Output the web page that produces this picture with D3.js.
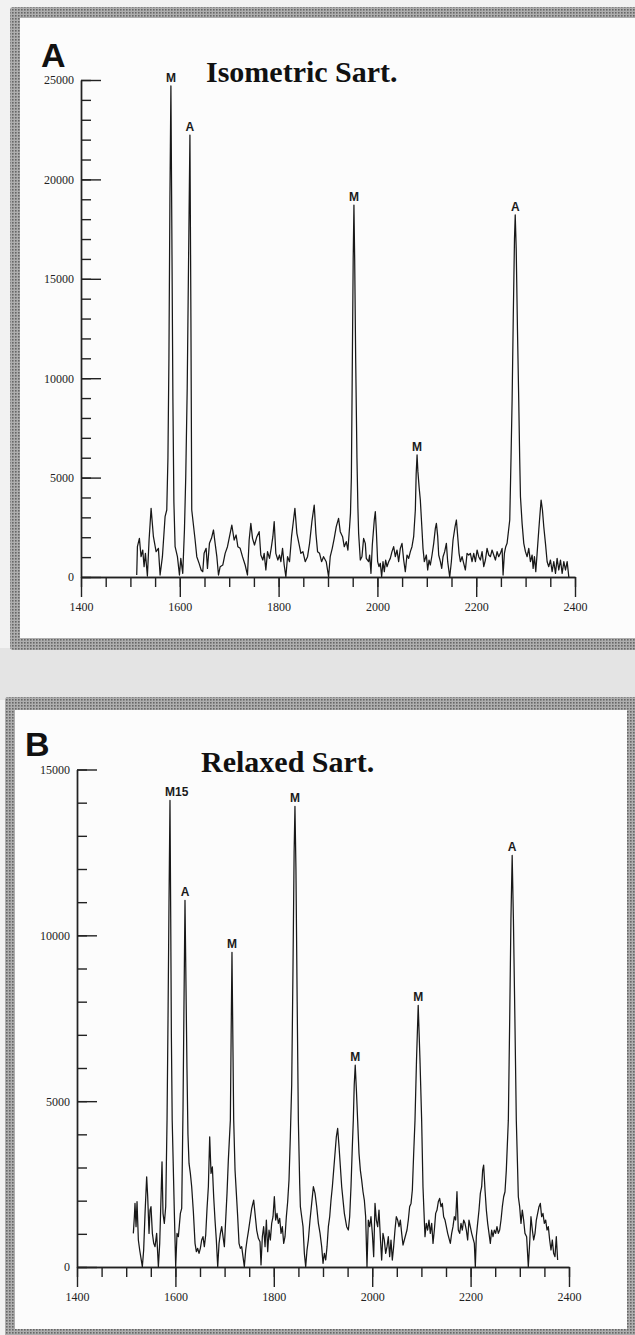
<!DOCTYPE html>
<html>
<head>
<meta charset="utf-8">
<script src="https://cdn.jsdelivr.net/npm/d3@7"></script>
<style>
  body { margin: 0; background: #f2f2f2; }
  svg { display: block; }
  .tick text { font-family: "Liberation Serif", serif; font-size: 12px; fill: #222; }
  .peak { font-family: "Liberation Sans", Arial, sans-serif; font-weight: bold; font-size: 12px; fill: #1a1a1a; }
  .letter { font-family: "Liberation Sans", Arial, sans-serif; font-weight: bold; font-size: 34px; fill: #111; }
  .title { font-family: "Liberation Serif", serif; font-weight: bold; font-size: 30px; fill: #111; }
</style>
</head>
<body>
<svg id="canvas"></svg>
<script>
var w = 635;
var h = 1335;

// x ticks (m/z) shared by both panels
var majorX = [1400, 1600, 1800, 2000, 2200, 2400];
var minorStepX = 50;

// panel A : isometric sartorius
var titleA = 'Isometric Sart.';
var yTicksA = [0, 5000, 10000, 15000, 20000, 25000];
var traceA = [
  [1512.8,100],[1514.2,1525],[1518.2,1944],[1521.6,1022],[1525,1357],[1527.7,519],[1530.4,1190],[1534.4,49],
  [1537.8,1860],[1541.9,3454],[1546.6,2028],[1552,1274],[1556.7,1441],[1560.1,100],[1564.8,1022],[1570.2,3034],
  [1573.6,3370],[1576,6000],[1578,11000],[1580,19000],[1582,24700],[1584,17000],[1586,9000],[1588,3800],
  [1590.5,1525],[1595.2,1022],[1599.3,100],[1602,938],[1606,184],[1609.4,2364],[1612,5000],[1615,9500],
  [1618,16500],[1620.5,22230],[1622.5,13000],[1624.2,3370],[1631,1860],[1634.4,1022],[1639.1,687],[1643.2,352],
  [1646.5,267],[1649.2,1190],[1653.3,1441],[1656,435],[1660,1693],[1664.1,1944],[1668.2,2364],[1671.5,1693],
  [1675,1022],[1678.3,100],[1681.7,519],[1687,603],[1691.8,1190],[1696.5,1525],[1700.6,2028],[1705.3,2615],
  [1710,1860],[1714,2112],[1717.5,1525],[1722.2,1441],[1726.9,1022],[1732.3,603],[1737,100],[1740.4,1860],
  [1743.8,2699],[1747.2,1944],[1751.2,1609],[1756,2028],[1760.7,2280],[1764,1106],[1768.1,854],[1770.8,1190],
  [1774.2,352],[1777.6,1274],[1781.6,938],[1785,1441],[1788.4,2028],[1791.1,2783],[1794.4,1190],[1798.5,854],
  [1801.9,1106],[1804.6,770],[1808,1441],[1811.3,603],[1814.7,16],[1818.1,1022],[1822.1,770],[1826.2,2028],
  [1830.2,2867],[1833,3454],[1837,2196],[1841.1,1693],[1845.1,1190],[1849.2,1274],[1853.9,770],[1858.6,1022],
  [1862.7,1693],[1867.4,2783],[1872.1,3621],[1875.5,2196],[1878.9,1274],[1882.9,1190],[1887,770],[1891,1022],
  [1896.4,770],[1901.2,16],[1904.5,1022],[1908.6,1441],[1912.6,1944],[1916.7,2531],[1921.4,2951],[1924.8,2280],
  [1929.5,2028],[1932.9,1525],[1937,1776],[1940.3,1357],[1943.7,2531],[1945.5,3200],[1947.3,5000],[1949,10000],
  [1951,16000],[1952.5,18710],[1954,16000],[1956,11000],[1958.6,6000],[1960.5,3500],[1962,2196],[1965.4,854],
  [1968.7,1022],[1972.1,1944],[1975.5,1693],[1977.5,938],[1982.2,770],[1984.3,1106],[1987,184],[1989.7,1609],
  [1993.7,2867],[1995.8,3286],[1997.8,2364],[2000.5,770],[2003.2,519],[2005.9,687],[2008.6,16],[2011.3,770],
  [2014,267],[2016.7,854],[2019.4,519],[2022.8,770],[2026.1,938],[2029.5,1274],[2032.9,1525],[2036.3,1022],
  [2039.7,1357],[2043,770],[2046.4,1441],[2049.8,1693],[2053.2,854],[2056.5,267],[2059.9,1106],[2063.3,938],
  [2066.7,1274],[2070,1525],[2073.4,2028],[2076.8,3370],[2078.5,5200],[2080.3,6140],[2082,5300],[2084.5,4500],
  [2086.9,3873],[2090.3,2364],[2092.3,1441],[2095,770],[2099.1,1106],[2101.8,352],[2104.5,854],[2107.2,603],
  [2110.6,1106],[2114,1693],[2117.3,2448],[2119.4,2699],[2122.1,2028],[2124.1,1106],[2127.5,770],[2130.2,435],
  [2132.9,1022],[2136.2,1274],[2139.6,1693],[2142.3,770],[2146.4,0],[2149.7,770],[2153.1,1860],[2157.2,2531],
  [2159.9,2867],[2162.6,2028],[2165.3,1190],[2168,770],[2171.4,1022],[2174.7,687],[2178.1,352],[2181.5,1190],
  [2184.9,1106],[2188.2,1190],[2191.6,770],[2195,1190],[2198.4,770],[2201.8,1357],[2205.1,1022],[2208.5,854],
  [2211.9,1274],[2215.3,519],[2218.6,854],[2222,1441],[2225.4,1106],[2228.8,1022],[2232.1,1357],[2235.5,1106],
  [2238.9,854],[2242.3,1274],[2245.6,1022],[2249,1190],[2252.4,1441],[2254.4,100],[2257.1,1190],[2259.8,1525],
  [2262.5,1693],[2267.9,2867],[2270.5,6000],[2272.7,8900],[2275,13000],[2277.5,17000],[2279,18210],[2281,16500],
  [2283.5,12500],[2286.1,8900],[2288,6000],[2289.6,4041],[2292.9,2699],[2296.3,1693],[2299.7,1274],[2303.1,1022],
  [2306.4,1441],[2309.8,770],[2313.2,1106],[2315.2,435],[2317.9,1022],[2320.6,267],[2323.3,1190],[2326.7,2364],
  [2328.7,3034],[2331.4,3873],[2334.1,3370],[2336.8,2531],[2340.2,1693],[2343.6,770],[2346.9,519],[2350.3,854],
  [2353.7,267],[2357.1,770],[2360.5,184],[2363.8,938],[2367.2,352],[2370.6,854],[2374,184],[2377.4,770],
  [2380.7,352],[2384.1,770],[2387.5,0]
];
var peaksA = [
  {x: 1582, v: 24700, label: 'M'},
  {x: 1620.5, v: 22230, label: 'A'},
  {x: 1952.5, v: 18710, label: 'M'},
  {x: 2080.3, v: 6140, label: 'M'},
  {x: 2279, v: 18210, label: 'A'}
];

// panel B : relaxed sartorius
var titleB = 'Relaxed Sart.';
var yTicksB = [0, 5000, 10000, 15000];
var traceB = [
  [1514.5,1014],[1516.6,1516],[1517.9,1918],[1520,1215],[1522,1968],[1523.3,1416],[1524.7,814],[1527.4,512],
  [1530.1,261],[1532.8,10],[1535.5,512],[1538.3,1617],[1541.6,2721],[1543.7,2119],[1546.4,1014],[1548.4,1717],
  [1550.4,1818],[1553.2,1014],[1555.9,713],[1558.6,613],[1561.9,1014],[1565.4,10],[1568.1,713],[1570.8,2119],
  [1572.8,3173],[1574.8,1617],[1577.5,1316],[1580.3,1818],[1583,4428],[1585,7500],[1587,11000],[1589,14066],
  [1590.5,10500],[1591.8,7000],[1593.5,4428],[1597.9,1617],[1600.6,10],[1603.3,1014],[1606,914],[1610.1,1617],
  [1612.8,1767],[1615.5,4800],[1617.5,8000],[1619.5,11054],[1621.5,8500],[1623.5,6000],[1625.5,4000],[1627.7,3123],
  [1630.4,2822],[1633.1,2420],[1636.5,1667],[1639.9,713],[1642.6,462],[1645.3,563],[1648,412],[1650.7,563],
  [1653.4,814],[1656.1,914],[1658.8,613],[1661.6,964],[1664.3,1767],[1667,2420],[1669.7,3926],[1672.4,2822],
  [1675.1,3022],[1677.8,2119],[1680.5,1416],[1683.2,814],[1686,10],[1688.7,713],[1691.4,1014],[1694.1,1215],
  [1696.8,914],[1699.5,613],[1702.2,1416],[1704.9,2219],[1707.6,3223],[1711.7,4428],[1713.3,7000],[1715,9488],
  [1716.7,7000],[1718.5,4428],[1721.2,2922],[1723.9,2219],[1726.6,1516],[1729.3,713],[1732,563],[1734.7,613],
  [1737.4,312],[1740.1,10],[1742.9,512],[1745.6,814],[1748.3,1065],[1751.7,1416],[1755.1,1767],[1759.1,2018],
  [1761.8,1617],[1765.2,1115],[1768.6,864],[1772,763],[1774,61],[1776.7,914],[1779.4,1215],[1782.2,613],
  [1784.9,1416],[1787.6,462],[1790.3,1115],[1793,814],[1795.7,1316],[1798.4,1516],[1801.1,2119],[1803.8,1416],
  [1806.5,1617],[1809.3,1316],[1812,1466],[1814.7,1014],[1817.4,1215],[1820.1,713],[1822.8,914],[1825.5,1516],
  [1828.2,1968],[1830.9,2621],[1833.6,3926],[1836.4,5500],[1839,9000],[1841.3,12500],[1843,13885],[1845,12000],
  [1847.5,8000],[1849.9,4428],[1852.6,2520],[1854,1818],[1856.7,1516],[1859.4,1215],[1862.1,412],[1864.8,10],
  [1867.5,512],[1870.2,814],[1873.6,1416],[1877,1918],[1880.4,2420],[1883.8,2219],[1887.2,1818],[1890.6,1316],
  [1894,1014],[1897.3,613],[1900,111],[1902.8,412],[1905.5,211],[1908.2,613],[1910.9,1215],[1913.6,1516],
  [1916.3,2018],[1919,2420],[1921.7,2922],[1924.4,3424],[1927.1,3926],[1929.8,4177],[1932.6,3625],[1935.3,3022],
  [1938,2420],[1940.7,2018],[1943.4,1617],[1948.1,1215],[1951.5,1115],[1954.2,1516],[1956.9,2420],[1959.6,3625],
  [1961.6,4428],[1963.5,5500],[1965.5,6084],[1968,5300],[1970.4,4428],[1973.2,3424],[1975.9,2922],[1978.6,2621],
  [1981.3,2269],[1984,2018],[1986.7,1516],[1989.4,10],[1992.1,1416],[1994.8,1215],[1997.5,1516],[2000.3,1014],
  [2003,312],[2005.7,1918],[2008.4,1416],[2011.1,1215],[2013.8,1717],[2016.5,914],[2019.2,211],[2021.9,1014],
  [2024.6,814],[2027.4,412],[2030.1,613],[2032.8,914],[2035.5,312],[2038.2,814],[2040.9,211],[2043.6,613],
  [2046.3,1115],[2049,1516],[2051.7,1416],[2054.5,1215],[2057.2,1416],[2059.9,1014],[2062.6,663],[2065.3,814],
  [2068,964],[2070.7,1115],[2073.4,1416],[2076.1,1818],[2078.9,1918],[2081.6,2320],[2084.3,3424],[2087,4428],
  [2090,6200],[2093.5,7890],[2097,6300],[2100.5,4428],[2103.2,2420],[2105.9,1416],[2107.3,914],[2110,1316],
  [2112.7,1115],[2115.4,1416],[2118.1,1014],[2120.9,1316],[2123.6,713],[2126.3,1115],[2129,1617],[2131.7,1717],
  [2134.4,1968],[2137.1,2069],[2139.8,1818],[2142.5,1918],[2145.2,1516],[2148,1416],[2150.7,1215],[2153.4,1014],
  [2156.1,864],[2158.8,713],[2161.5,1014],[2164.2,1215],[2166.9,1516],[2169.6,1416],[2172.3,2269],[2175,1115],
  [2177.8,1014],[2180.5,1316],[2183.2,1115],[2185.9,1416],[2188.6,1316],[2191.3,1115],[2194,814],[2196.7,1416],
  [2199.4,1215],[2202.2,1014],[2204.9,864],[2207.6,713],[2209.6,10],[2211.6,914],[2214.3,1316],[2217.1,1717],
  [2219.8,2219],[2222.5,2420],[2224.5,2922],[2226.5,3073],[2229.3,2320],[2232,1717],[2234.7,1316],[2237.4,1014],
  [2240.1,713],[2242.8,1115],[2245.5,914],[2248.2,1115],[2250.9,1014],[2253.6,1215],[2256.4,1014],[2259.1,1115],
  [2261.8,1416],[2264.5,1818],[2267.2,2119],[2269.9,2269],[2272.6,2922],[2276.7,4428],[2279.5,7500],[2282,10500],
  [2284.5,12410],[2287,10500],[2290,7500],[2292.9,4428],[2295.6,2922],[2297,2119],[2299.7,1818],[2302.4,1316],
  [2305.1,1717],[2307.8,1416],[2310.5,1014],[2313.9,914],[2317.3,10],[2320,713],[2322.7,1516],[2325.5,1115],
  [2328.2,814],[2330.9,1014],[2333.6,1416],[2336.3,1617],[2339,1818],[2341.7,1918],[2344.4,1516],[2347.1,1617],
  [2349.9,1316],[2352.6,1416],[2355.3,1115],[2358,1215],[2360.7,814],[2363.4,512],[2366.1,814],[2368.8,412],
  [2371.5,312],[2374.2,914],[2376.9,211]
];
var peaksB = [
  {x: 1589, v: 14066, label: 'M15'},
  {x: 1619.5, v: 11054, label: 'A'},
  {x: 1715, v: 9488, label: 'M'},
  {x: 1843, v: 13885, label: 'M'},
  {x: 1965.5, v: 6084, label: 'M'},
  {x: 2093.5, v: 7890, label: 'M'},
  {x: 2284.5, v: 12410, label: 'A'}
];

var svg = d3.select('#canvas')
  .attr('width', w)
  .attr('height', h)
  .attr('viewBox', [0, 0, w, h]);

// halftone look of the printed frames
var defs = svg.append('defs');
var pat = defs.append('pattern')
  .attr('id', 'halftone')
  .attr('width', 3).attr('height', 3)
  .attr('patternUnits', 'userSpaceOnUse');
pat.append('rect').attr('width', 3).attr('height', 3).attr('fill', '#aeaeae');
pat.append('rect').attr('width', 1.6).attr('height', 1.6).attr('fill', '#666');

// page strip between the two frames
svg.append('rect').attr('x', 0).attr('y', 648).attr('width', w).attr('height', 52).attr('fill', '#e4e4e4');

function drawFrame(outer, inner){
  svg.append('rect')
    .attr('x', outer[0]).attr('y', outer[1]).attr('width', outer[2]).attr('height', outer[3])
    .attr('rx', 3)
    .attr('fill', 'url(#halftone)');
  svg.append('rect')
    .attr('x', inner[0]).attr('y', inner[1]).attr('width', inner[2]).attr('height', inner[3])
    .attr('fill', '#fcfcfc');
}

function drawPanel(p){
  var x = d3.scaleLinear().domain([1400, 2400]).range(p.xRange);
  var y = d3.scaleLinear().domain([0, p.yMax]).range(p.yRange);
  var g = svg.append('g');

  // x axis, minor then major ticks
  g.append('g')
    .attr('transform', 'translate(0,' + p.yRange[0] + ')')
    .call(d3.axisBottom(x).tickValues(d3.range(1400, 2401, minorStepX)).tickSize(10).tickSizeOuter(0).tickFormat(''));
  g.append('g')
    .attr('transform', 'translate(0,' + p.yRange[0] + ')')
    .call(d3.axisBottom(x).tickValues(majorX).tickSize(20).tickSizeOuter(0).tickPadding(5).tickFormat(d3.format('d')));

  // y axis, ticks pointing inwards
  g.append('g')
    .attr('transform', 'translate(' + p.xRange[0] + ',0)')
    .call(d3.axisLeft(y).tickValues(d3.range(0, p.yMax + 1, 1000)).tickSizeInner(-10).tickSizeOuter(0).tickFormat(''));
  g.append('g')
    .attr('transform', 'translate(' + p.xRange[0] + ',0)')
    .call(d3.axisLeft(y).tickValues(p.yTicks).tickSizeInner(-20).tickSizeOuter(0).tickPadding(7).tickFormat(d3.format('d')));

  g.selectAll('.domain, .tick line').attr('stroke', '#222').attr('stroke-width', 1.4);

  var line = d3.line().x(d => x(d[0])).y(d => y(d[1]));
  g.append('path')
    .datum(p.trace)
    .attr('d', line)
    .attr('fill', 'none')
    .attr('stroke', '#181818')
    .attr('stroke-width', 1.25)
    .attr('stroke-linejoin', 'round');

  g.selectAll('.peak')
    .data(p.peaks)
    .enter()
    .append('text')
    .attr('class', 'peak')
    .attr('x', d => d.label.length > 1 ? x(d.x) - 5 : x(d.x))
    .attr('y', d => y(d.v) - 4)
    .attr('text-anchor', d => d.label.length > 1 ? 'start' : 'middle')
    .text(d => d.label);

  g.append('text').attr('class', 'letter').attr('x', p.letterPos[0]).attr('y', p.letterPos[1]).text(p.letter);
  g.append('text').attr('class', 'title').attr('x', p.titlePos[0]).attr('y', p.titlePos[1]).text(p.title);
}

drawFrame([10, 7, 640, 643], [20, 18, 630, 620]);
drawFrame([5, 697, 640, 650], [15, 710, 612, 619]);

drawPanel({
  trace: traceA, peaks: peaksA, yMax: 25000, yTicks: yTicksA,
  xRange: [81, 575], yRange: [577, 80],
  letter: 'A', letterPos: [41, 67], title: titleA, titlePos: [206, 82]
});
drawPanel({
  trace: traceB, peaks: peaksB, yMax: 15000, yTicks: yTicksB,
  xRange: [77, 569], yRange: [1267, 769.5],
  letter: 'B', letterPos: [25, 756], title: titleB, titlePos: [201, 772]
});
</script>
</body>
</html>
